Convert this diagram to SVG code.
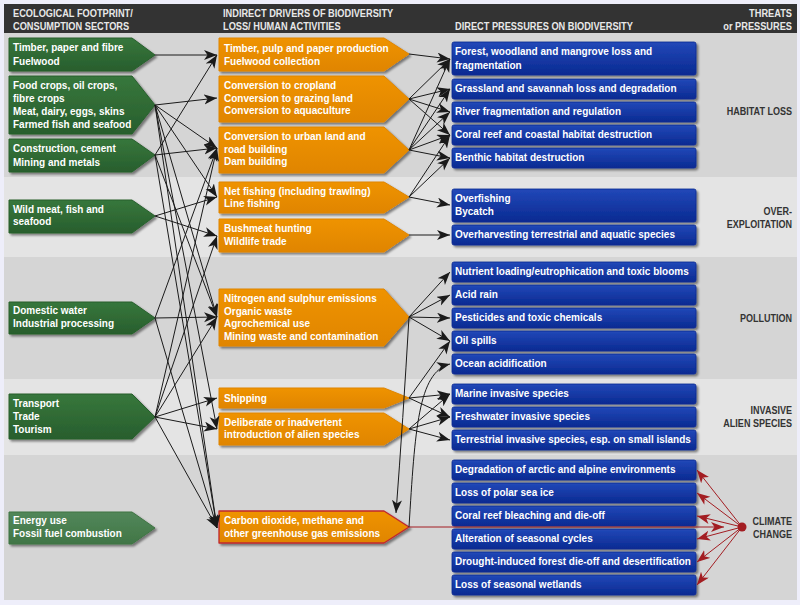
<svg xmlns="http://www.w3.org/2000/svg" width="800" height="605" viewBox="0 0 800 605">
<defs>
<style>
.t{font-family:"Liberation Sans",Arial,sans-serif;font-weight:bold;font-size:11.5px;fill:#fff}
.h{font-family:"Liberation Sans",Arial,sans-serif;font-weight:bold;font-size:10.5px;fill:#e8e8e8}
.r{font-family:"Liberation Sans",Arial,sans-serif;font-weight:bold;font-size:10.5px;fill:#333;text-anchor:end}
.gr{fill:url(#gG);stroke:#28602d;stroke-width:1;stroke-linejoin:round;filter:url(#sh)}
.gl{fill:url(#gL);stroke:#3f7443;stroke-width:1;stroke-linejoin:round;filter:url(#sh)}
.or{fill:url(#gO);stroke:#e08500;stroke-width:1;stroke-linejoin:round;filter:url(#sh)}
.bl{fill:url(#gB);stroke:#0a2a92;stroke-width:0.8;filter:url(#sh)}
.c{fill:none;stroke:#1a1a1a;stroke-width:1;marker-end:url(#ah)}
.cr{fill:none;stroke:#a31d22;stroke-width:1;marker-end:url(#ahr)}
</style>
<linearGradient id="gG" x1="0" y1="0" x2="0" y2="1"><stop offset="0" stop-color="#37773c"/><stop offset="1" stop-color="#285e2d"/></linearGradient>
<linearGradient id="gL" x1="0" y1="0" x2="0" y2="1"><stop offset="0" stop-color="#52875a"/><stop offset="1" stop-color="#417646"/></linearGradient>
<linearGradient id="gO" x1="0" y1="0" x2="0" y2="1"><stop offset="0" stop-color="#ef9305"/><stop offset="1" stop-color="#e08500"/></linearGradient>
<linearGradient id="gB" x1="0" y1="0" x2="0" y2="1"><stop offset="0" stop-color="#2248b8"/><stop offset="1" stop-color="#0a2a92"/></linearGradient>
<filter id="sh" x="-10%" y="-20%" width="120%" height="150%"><feDropShadow dx="2" dy="2" stdDeviation="1.2" flood-color="#000" flood-opacity="0.45"/></filter>
<marker id="ah" markerWidth="14" markerHeight="11" refX="13" refY="5" orient="auto" markerUnits="userSpaceOnUse"><path d="M0,0 L13,5 L0,10 L3.5,5 Z" fill="#1a1a1a"/></marker>
<marker id="ahr" markerWidth="14" markerHeight="11" refX="13" refY="5" orient="auto" markerUnits="userSpaceOnUse"><path d="M0,0 L13,5 L0,10 L3.5,5 Z" fill="#a31d22"/></marker>
</defs>

<g id="background">
<rect x="0" y="0" width="800" height="605" fill="#eeeefa"/>
<rect x="4" y="4" width="793" height="29" fill="#333333"/>
<rect x="4" y="33" width="793" height="144" fill="#d5d5d5"/>
<rect x="4" y="177" width="793" height="80" fill="#e4e4e4"/>
<rect x="4" y="257" width="793" height="122" fill="#d5d5d5"/>
<rect x="4" y="379" width="793" height="76" fill="#e4e4e4"/>
<rect x="4" y="455" width="793" height="145" fill="#d5d5d5"/>
</g>

<g id="headers">
<text class="h" transform="matrix(.88 0 0 1 13 0)"><tspan x="0" y="17">ECOLOGICAL FOOTPRINT/</tspan><tspan x="0" y="30">CONSUMPTION SECTORS</tspan></text>
<text class="h" transform="matrix(.88 0 0 1 223 0)"><tspan x="0" y="17">INDIRECT DRIVERS OF BIODIVERSITY</tspan><tspan x="0" y="30">LOSS/ HUMAN ACTIVITIES</tspan></text>
<text class="h" transform="matrix(.88 0 0 1 455 0)"><tspan x="0" y="30">DIRECT PRESSURES ON BIODIVERSITY</tspan></text>
<text class="h" style="text-anchor:end" transform="matrix(.88 0 0 1 792 0)"><tspan x="0" y="17">THREATS</tspan><tspan x="0" y="30">or PRESSURES</tspan></text>
</g>

<g id="threat-labels">
<text class="r" transform="matrix(.86 0 0 1 792 0)"><tspan x="0" y="115">HABITAT LOSS</tspan></text>
<text class="r" transform="matrix(.86 0 0 1 792 0)"><tspan x="0" y="215">OVER-</tspan><tspan x="0" y="228">EXPLOITATION</tspan></text>
<text class="r" transform="matrix(.86 0 0 1 792 0)"><tspan x="0" y="322">POLLUTION</tspan></text>
<text class="r" transform="matrix(.86 0 0 1 792 0)"><tspan x="0" y="414">INVASIVE</tspan><tspan x="0" y="427">ALIEN SPECIES</tspan></text>
<text class="r" transform="matrix(.86 0 0 1 792 0)"><tspan x="0" y="525">CLIMATE</tspan><tspan x="0" y="538">CHANGE</tspan></text>
</g>

<g id="g1"><path class="gr" d="M9,38 H132 L155,55 L132,71 H9 Z"/><text class="t" transform="matrix(.87 0 0 1 13 0)"><tspan x="0" y="51">Timber, paper and fibre</tspan><tspan x="0" y="65">Fuelwood</tspan></text></g>
<g id="g2"><path class="gr" d="M9,76 H132 L155,105 L132,134 H9 Z"/><text class="t" transform="matrix(.87 0 0 1 13 0)"><tspan x="0" y="89">Food crops, oil crops,</tspan><tspan x="0" y="102">fibre crops</tspan><tspan x="0" y="115">Meat, dairy, eggs, skins</tspan><tspan x="0" y="128">Farmed fish and seafood</tspan></text></g>
<g id="g3"><path class="gr" d="M9,139 H132 L155,155 L132,172 H9 Z"/><text class="t" transform="matrix(.87 0 0 1 13 0)"><tspan x="0" y="152">Construction, cement</tspan><tspan x="0" y="166">Mining and metals</tspan></text></g>
<g id="g4"><path class="gr" d="M9,200 H132 L155,216 L132,233 H9 Z"/><text class="t" transform="matrix(.87 0 0 1 13 0)"><tspan x="0" y="213">Wild meat, fish and</tspan><tspan x="0" y="225">seafood</tspan></text></g>
<g id="g5"><path class="gr" d="M9,302 H132 L155,318 L132,334 H9 Z"/><text class="t" transform="matrix(.87 0 0 1 13 0)"><tspan x="0" y="314">Domestic water</tspan><tspan x="0" y="327">Industrial processing</tspan></text></g>
<g id="g6"><path class="gr" d="M9,394 H132 L155,417 L132,439 H9 Z"/><text class="t" transform="matrix(.87 0 0 1 13 0)"><tspan x="0" y="407">Transport</tspan><tspan x="0" y="420">Trade</tspan><tspan x="0" y="433">Tourism</tspan></text></g>
<g id="g7"><path class="gl" d="M9,512 H132 L155,528 L132,544 H9 Z"/><text class="t" transform="matrix(.87 0 0 1 13 0)"><tspan x="0" y="524">Energy use</tspan><tspan x="0" y="537">Fossil fuel combustion</tspan></text></g>

<g id="o1"><path class="or" d="M219,38 H384 L409,54 L384,71 H219 Z"/><text class="t" transform="matrix(.87 0 0 1 224 0)"><tspan x="0" y="52">Timber, pulp and paper production</tspan><tspan x="0" y="65">Fuelwood collection</tspan></text></g>
<g id="o2"><path class="or" d="M219,76 H384 L409,99 L384,122 H219 Z"/><text class="t" transform="matrix(.87 0 0 1 224 0)"><tspan x="0" y="89">Conversion to cropland</tspan><tspan x="0" y="102">Conversion to grazing land</tspan><tspan x="0" y="114">Conversion to aquaculture</tspan></text></g>
<g id="o3"><path class="or" d="M219,127 H384 L409,150 L384,173 H219 Z"/><text class="t" transform="matrix(.87 0 0 1 224 0)"><tspan x="0" y="140">Conversion to urban land and</tspan><tspan x="0" y="153">road building</tspan><tspan x="0" y="165">Dam building</tspan></text></g>
<g id="o4"><path class="or" d="M219,182 H384 L409,197 L384,213 H219 Z"/><text class="t" transform="matrix(.87 0 0 1 224 0)"><tspan x="0" y="195">Net fishing (including trawling)</tspan><tspan x="0" y="207">Line fishing</tspan></text></g>
<g id="o5"><path class="or" d="M219,219 H384 L409,235 L384,252 H219 Z"/><text class="t" transform="matrix(.87 0 0 1 224 0)"><tspan x="0" y="232">Bushmeat hunting</tspan><tspan x="0" y="245">Wildlife trade</tspan></text></g>
<g id="o6"><path class="or" d="M219,289 H384 L409,317 L384,346 H219 Z"/><text class="t" transform="matrix(.87 0 0 1 224 0)"><tspan x="0" y="302">Nitrogen and sulphur emissions</tspan><tspan x="0" y="315">Organic waste</tspan><tspan x="0" y="327">Agrochemical use</tspan><tspan x="0" y="340">Mining waste and contamination</tspan></text></g>
<g id="o7"><path class="or" d="M219,388 H384 L409,398 L384,408 H219 Z"/><text class="t" transform="matrix(.87 0 0 1 224 0)"><tspan x="0" y="402">Shipping</tspan></text></g>
<g id="o8"><path class="or" d="M219,413 H384 L409,429 L384,445 H219 Z"/><text class="t" transform="matrix(.87 0 0 1 224 0)"><tspan x="0" y="426">Deliberate or inadvertent</tspan><tspan x="0" y="438">introduction of alien species</tspan></text></g>
<g id="o9"><path class="or" style="stroke:#c0282d;stroke-width:1.3" d="M219,511 H384 L409,527 L384,543 H219 Z"/><text class="t" transform="matrix(.87 0 0 1 224 0)"><tspan x="0" y="524">Carbon dioxide, methane and</tspan><tspan x="0" y="537">other greenhouse gas emissions</tspan></text></g>

<g id="b-forest"><rect class="bl" x="452" y="42" width="244" height="33" rx="2"/><text class="t" transform="matrix(.87 0 0 1 455 0)"><tspan x="0" y="55">Forest, woodland and mangrove loss and</tspan><tspan x="0" y="69">fragmentation</tspan></text></g>
<g id="b-grassland"><rect class="bl" x="452" y="79" width="244" height="20" rx="2"/><text class="t" transform="matrix(.87 0 0 1 455 0)"><tspan x="0" y="92">Grassland and savannah loss and degradation</tspan></text></g>
<g id="b-river"><rect class="bl" x="452" y="102" width="244" height="20" rx="2"/><text class="t" transform="matrix(.87 0 0 1 455 0)"><tspan x="0" y="115">River fragmentation and regulation</tspan></text></g>
<g id="b-coral"><rect class="bl" x="452" y="125" width="244" height="20" rx="2"/><text class="t" transform="matrix(.87 0 0 1 455 0)"><tspan x="0" y="138">Coral reef and coastal habitat destruction</tspan></text></g>
<g id="b-benthic"><rect class="bl" x="452" y="148" width="244" height="20" rx="2"/><text class="t" transform="matrix(.87 0 0 1 455 0)"><tspan x="0" y="161">Benthic habitat destruction</tspan></text></g>
<g id="b-overfishing"><rect class="bl" x="452" y="189" width="244" height="33" rx="2"/><text class="t" transform="matrix(.87 0 0 1 455 0)"><tspan x="0" y="202">Overfishing</tspan><tspan x="0" y="215">Bycatch</tspan></text></g>
<g id="b-overharvesting"><rect class="bl" x="452" y="225" width="244" height="20" rx="2"/><text class="t" transform="matrix(.87 0 0 1 455 0)"><tspan x="0" y="238">Overharvesting terrestrial and aquatic species</tspan></text></g>
<g id="b-nutrient"><rect class="bl" x="452" y="262" width="244" height="20" rx="2"/><text class="t" transform="matrix(.87 0 0 1 455 0)"><tspan x="0" y="275">Nutrient loading/eutrophication and toxic blooms</tspan></text></g>
<g id="b-acid"><rect class="bl" x="452" y="285" width="244" height="20" rx="2"/><text class="t" transform="matrix(.87 0 0 1 455 0)"><tspan x="0" y="298">Acid rain</tspan></text></g>
<g id="b-pesticides"><rect class="bl" x="452" y="308" width="244" height="20" rx="2"/><text class="t" transform="matrix(.87 0 0 1 455 0)"><tspan x="0" y="321">Pesticides and toxic chemicals</tspan></text></g>
<g id="b-oil"><rect class="bl" x="452" y="331" width="244" height="20" rx="2"/><text class="t" transform="matrix(.87 0 0 1 455 0)"><tspan x="0" y="344">Oil spills</tspan></text></g>
<g id="b-ocean"><rect class="bl" x="452" y="354" width="244" height="20" rx="2"/><text class="t" transform="matrix(.87 0 0 1 455 0)"><tspan x="0" y="367">Ocean acidification</tspan></text></g>
<g id="b-marine"><rect class="bl" x="452" y="384" width="244" height="20" rx="2"/><text class="t" transform="matrix(.87 0 0 1 455 0)"><tspan x="0" y="397">Marine invasive species</tspan></text></g>
<g id="b-freshwater"><rect class="bl" x="452" y="407" width="244" height="20" rx="2"/><text class="t" transform="matrix(.87 0 0 1 455 0)"><tspan x="0" y="420">Freshwater invasive species</tspan></text></g>
<g id="b-terrestrial"><rect class="bl" x="452" y="430" width="244" height="20" rx="2"/><text class="t" transform="matrix(.87 0 0 1 455 0)"><tspan x="0" y="443">Terrestrial invasive species, esp. on small islands</tspan></text></g>
<g id="b-arctic"><rect class="bl" x="452" y="460" width="244" height="20" rx="2"/><text class="t" transform="matrix(.87 0 0 1 455 0)"><tspan x="0" y="473">Degradation of arctic and alpine environments</tspan></text></g>
<g id="b-seaice"><rect class="bl" x="452" y="483" width="244" height="20" rx="2"/><text class="t" transform="matrix(.87 0 0 1 455 0)"><tspan x="0" y="496">Loss of polar sea ice</tspan></text></g>
<g id="b-bleaching"><rect class="bl" x="452" y="506" width="244" height="20" rx="2"/><text class="t" transform="matrix(.87 0 0 1 455 0)"><tspan x="0" y="519">Coral reef bleaching and die-off</tspan></text></g>
<g id="b-seasonal"><rect class="bl" x="452" y="529" width="244" height="20" rx="2"/><text class="t" transform="matrix(.87 0 0 1 455 0)"><tspan x="0" y="542">Alteration of seasonal cycles</tspan></text></g>
<g id="b-drought"><rect class="bl" x="452" y="552" width="244" height="20" rx="2"/><text class="t" transform="matrix(.87 0 0 1 455 0)"><tspan x="0" y="565">Drought-induced forest die-off and desertification</tspan></text></g>
<g id="b-wetlands"><rect class="bl" x="452" y="575" width="244" height="20" rx="2"/><text class="t" transform="matrix(.87 0 0 1 455 0)"><tspan x="0" y="588">Loss of seasonal wetlands</tspan></text></g>

<g id="connectors">
<path class="c" d="M155,55 L217,55"/>
<path class="c" d="M155,155 L217,55"/>
<path class="c" d="M155,105 L217,98"/>
<path class="c" d="M155,105 L217,148"/>
<path class="c" d="M155,155 L217,148"/>
<path class="c" d="M155,318 L217,148"/>
<path class="c" d="M155,417 L217,148"/>
<path class="c" d="M155,105 L217,197"/>
<path class="c" d="M155,216 L217,197"/>
<path class="c" d="M155,216 L217,236"/>
<path class="c" d="M155,417 L217,236"/>
<path class="c" d="M155,105 L217,317"/>
<path class="c" d="M155,155 L217,317"/>
<path class="c" d="M155,318 L217,317"/>
<path class="c" d="M155,417 L217,317"/>
<path class="c" d="M155,417 L217,398"/>
<path class="c" d="M155,417 L217,429"/>
<path class="c" d="M155,105 L217,429"/>
<path class="c" d="M155,105 L217,528"/>
<path class="c" d="M155,155 L217,528"/>
<path class="c" d="M155,318 L217,528"/>
<path class="c" d="M155,417 L217,528"/>

<path class="c" d="M409,54 L450,59"/>
<path class="c" d="M409,99 L450,59"/>
<path class="c" d="M409,99 L450,89"/>
<path class="c" d="M409,99 L450,112"/>
<path class="c" d="M409,99 L450,135"/>
<path class="c" d="M409,150 L450,59"/>
<path class="c" d="M409,150 L450,89"/>
<path class="c" d="M409,150 L450,112"/>
<path class="c" d="M409,150 L450,135"/>
<path class="c" d="M409,150 L450,158"/>
<path class="c" d="M409,197 L450,135"/>
<path class="c" d="M409,197 L450,158"/>
<path class="c" d="M409,197 L450,205"/>
<path class="c" d="M409,235 L450,235"/>
<path class="c" d="M409,317 L450,272"/>
<path class="c" d="M409,317 L450,295"/>
<path class="c" d="M409,317 L450,318"/>
<path class="c" d="M409,317 L450,341"/>
<path class="c" d="M409,398 L450,341"/>
<path class="c" d="M409,398 L450,394"/>
<path class="c" d="M409,398 L450,417"/>
<path class="c" d="M409,429 L450,394"/>
<path class="c" d="M409,429 L450,417"/>
<path class="c" d="M409,429 L450,440"/>
<path class="c" d="M409,317 Q403,420 396,513"/>
<path class="c" d="M409,527 C415,430 418,372 450,364"/>

<path class="cr" d="M409,527 L724,527"/>
<circle cx="742" cy="527" r="4.5" fill="#a31d22"/>
<path class="cr" d="M742,527 L697,470"/>
<path class="cr" d="M742,527 L697,493"/>
<path class="cr" d="M742,527 L697,516"/>
<path class="cr" d="M742,527 L697,539"/>
<path class="cr" d="M742,527 L697,562"/>
<path class="cr" d="M742,527 L697,585"/>
</g>
</svg>
